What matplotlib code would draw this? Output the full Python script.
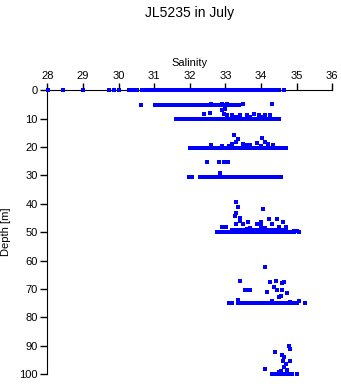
import matplotlib.pyplot as plt

plt.rcParams['font.family'] = ['Liberation Sans', 'DejaVu Sans']

# rows of samples at (near) constant depth
sal_0 = [28.02, 28.43, 29.01, 29.74, 29.88, 30.02, 30.28, 30.33, 30.38, 30.43, 30.47,
         30.53, 30.65, 30.70, 30.76, 30.81, 30.9, 31.0, 31.1, 31.2, 31.3, 31.4, 31.5,
         31.6, 31.7, 31.8, 31.9, 32.0, 32.1, 32.2, 32.3, 32.4, 32.5, 32.6, 32.7, 32.8,
         32.9, 33.0, 33.1, 33.2, 33.3, 33.4, 33.5, 33.6, 33.7, 33.8, 33.9, 34.0, 34.1,
         34.2, 34.3, 34.4, 34.5, 34.64]
sal_5 = [30.63, 31.03, 31.1, 31.17, 31.22, 31.3, 31.4, 31.5, 31.6, 31.7, 31.8, 31.9,
         32.0, 32.1, 32.2, 32.3, 32.4, 32.5, 32.6, 32.7, 32.8, 32.9, 33.0, 33.1, 33.2,
         33.3, 33.37]
sal_10 = [31.6, 31.7, 31.8, 31.9, 32.0, 32.1, 32.2, 32.3, 32.4, 32.5, 32.6, 32.7,
          32.8, 32.9, 33.0, 33.1, 33.2, 33.3, 33.4, 33.5, 33.6, 33.7, 33.8, 33.9, 34.0,
          34.1, 34.2, 34.3, 34.4, 34.5]
sal_20 = [32.02, 32.1, 32.2, 32.3, 32.4, 32.5, 32.6, 32.7, 32.8, 32.9, 33.0, 33.1,
          33.2, 33.3, 33.4, 33.5, 33.6, 33.7, 33.8, 33.9, 34.0, 34.1, 34.2, 34.3, 34.4,
          34.5, 34.6, 34.69]
sal_25 = [32.48, 32.81, 32.95, 33.08]
sal_30 = [31.97, 32.05, 32.28, 32.35, 32.45, 32.55, 32.65, 32.75, 32.85, 32.95, 33.05,
          33.15, 33.25, 33.35, 33.45, 33.55, 33.65, 33.75, 33.85, 33.95, 34.05, 34.15,
          34.25, 34.35, 34.45, 34.55]
sal_50 = [32.77, 32.86, 32.93, 33.05, 33.14, 33.2, 33.26, 33.32, 33.38, 33.44, 33.5,
          33.56, 33.62, 33.68, 33.74, 33.8, 33.86, 33.92, 33.98, 34.04, 34.1, 34.16,
          34.22, 34.28, 34.34, 34.4, 34.46, 34.52, 34.58, 34.64, 34.7, 34.74, 34.85,
          34.92, 35.06]
sal_49 = [33.2, 33.3, 33.4, 33.5, 33.6, 33.7, 33.8, 33.9, 34.0, 34.1, 34.2, 34.3,
          34.4, 34.5, 34.6, 34.7]
sal_75 = [33.09, 33.14, 33.2, 33.36, 33.48, 33.55, 33.62, 33.7, 33.76, 33.86, 33.92,
          33.98, 34.04, 34.1, 34.16, 34.22, 34.28, 34.34, 34.4, 34.46, 34.52, 34.58,
          34.64, 34.7, 34.76, 34.83, 34.9, 35.02, 35.25]
sal_100 = [34.31, 34.36, 34.42, 34.48, 34.54, 34.6, 34.66, 34.72, 34.78, 34.84, 34.88,
           35.0]

# scattered samples between the rows
scat_sal = [32.6, 32.9, 33.05, 33.5, 34.3,
            32.41, 32.58, 32.9, 33.0, 32.95, 33.05, 33.2, 33.4, 33.6, 33.8, 33.95,
            34.1, 34.25, 33.3, 33.7, 34.0,
            32.6, 32.9, 33.2, 33.23, 33.35, 33.3, 33.5, 33.7, 33.9, 34.03, 34.1, 34.2,
            34.35, 33.1, 33.6, 34.0,
            32.86,
            33.31, 33.35, 33.31, 33.26, 33.4, 33.4, 34.05, 33.64, 32.91, 33.03, 33.31,
            33.5, 33.89, 33.99, 34.22, 34.46, 34.63, 34.31, 34.69, 35.02, 34.92, 33.7,
            34.1, 34.5, 33.6, 34.0,
            34.11, 33.4, 33.54, 33.62, 33.7, 34.25, 34.41, 34.6, 34.66, 34.38, 34.17,
            34.46, 34.6, 34.72, 33.36, 35.07, 34.83, 34.5, 34.3, 34.55,
            34.78, 34.81, 34.39, 34.6, 34.66, 34.81, 34.62, 34.69, 34.64, 34.11, 34.5,
            34.72, 34.55]
scat_depth = [4.7, 4.7, 4.7, 4.7, 4.7,
              8.2, 7.9, 7.0, 6.5, 8.2, 8.6, 8.6, 8.6, 8.6, 8.2, 8.9,
              8.6, 8.9, 9.3, 9.5, 9.3,
              19.3, 19.5, 19.0, 15.8, 17.2, 18.3, 18.8, 19.2, 18.6, 16.7, 18.3, 19.0,
              19.2, 19.6, 19.4, 19.5,
              29.3,
              39.3, 41.3, 43.4, 44.4, 45.0, 46.0, 41.9, 46.3, 48.2, 48.2, 47.2,
              47.2, 47.2, 46.6, 45.2, 45.2, 46.6, 47.2, 48.2, 49.6, 49.6, 48.5,
              48.6, 48.3, 48.8, 48.0,
              62.3, 67.2, 70.4, 70.4, 70.4, 67.7, 67.2, 68.0, 67.5, 69.5, 71.0,
              70.4, 70.4, 71.6, 73.9, 74.2, 74.6, 73.0, 74.2, 72.5,
              90.1, 91.2, 92.4, 93.3, 93.9, 95.4, 95.4, 96.5, 97.4, 98.3, 99.2,
              98.5, 99.0]

rows = [(sal_0, 0), (sal_5, 5.2), (sal_10, 10.2), (sal_20, 20.2), (sal_25, 25.2),
        (sal_30, 30.4), (sal_50, 50.0), (sal_49, 49.3), (sal_75, 75.1),
        (sal_100, 100.0)]

fig = plt.figure(figsize=(3.41, 3.84), dpi=100)
ax = fig.add_axes([0.139, 0.026, 0.835, 0.739])

for s, d in rows:
    ax.plot(s, [d] * len(s), 's', color='#0000ff', ms=2.2, mew=0,
            clip_on=False, zorder=3)
ax.plot(scat_sal, scat_depth, 's', color='#0000ff', ms=2.2, mew=0,
        clip_on=False, zorder=3)

ax.set_xlim(28, 36)
ax.set_ylim(100, 0)
ax.xaxis.tick_top()
ax.xaxis.set_label_position('top')
ax.set_xticks(range(28, 37))
ax.set_yticks(range(0, 101, 10))
ax.spines['bottom'].set_visible(False)
ax.spines['right'].set_visible(False)
ax.tick_params(direction='out', length=5, width=1, labelsize=8, pad=2)
ax.set_xlabel('Salinity', fontsize=8, labelpad=3)
ax.set_ylabel('Depth [m]', fontsize=8, labelpad=6)

fig.text(0.557, 0.965, 'JL5235 in July', ha='center', va='center', fontsize=10)

fig.savefig('out.png', dpi=100)
